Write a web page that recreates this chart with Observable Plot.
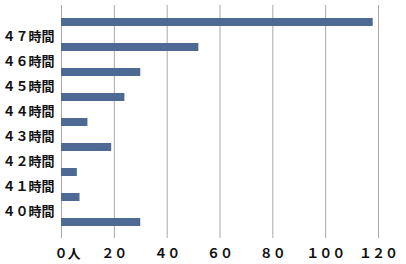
<!DOCTYPE html>
<html>
<head>
<meta charset="utf-8">
<script src="https://cdn.jsdelivr.net/npm/d3@7"></script>
<script src="https://cdn.jsdelivr.net/npm/@observablehq/plot@0.6"></script>
<style>
  html, body { margin: 0; padding: 0; background: #fff; }
  #chart svg { display: block; }
</style>
</head>
<body>
<div id="chart"></div>
<script>
const labels = ["", "４７時間", "４６時間", "４５時間", "４４時間", "４３時間", "４２時間", "４１時間", "４０時間"];
const values = [118, 52, 30, 24, 10, 19, 6, 7, 30];
const xTicks = [0, 20, 40, 60, 80, 100, 120];
const xTickLabels = ["０人", "２０", "４０", "６０", "８０", "１００", "１２０"];

const data = labels.map((l, i) => ({label: l, value: values[i]}));
const tickText = new Map(xTicks.map((t, i) => [t, xTickLabels[i]]));
const font = "'Noto Sans CJK JP', 'Noto Sans', sans-serif";

const chart = Plot.plot({
  width: 406,
  height: 264,
  marginTop: 5,
  marginBottom: 26,
  marginLeft: 61,
  marginRight: 28,
  style: {fontFamily: font, fontSize: "13px", fontWeight: "bold", color: "#111", background: "#fff"},
  x: {domain: [0, 120], axis: null, label: null},
  y: {domain: labels, type: "band", paddingInner: 0.69, paddingOuter: 0.345, axis: null, label: null},
  marks: [
    Plot.gridX(xTicks, {stroke: "#a8a8a8", strokeOpacity: 1, strokeWidth: 1}),
    Plot.barX(data, {x: "value", y: "label", fill: "#4e6a94"}),
    Plot.axisX(xTicks.filter(t => t !== 0), {tickSize: 0, tickPadding: 10, label: null, tickFormat: t => tickText.get(t), fontSize: 13, fontWeight: "bold", fill: "#111"}),
    Plot.axisX([0], {tickSize: 0, tickPadding: 10, label: null, tickFormat: t => tickText.get(t), textAnchor: "start", dx: -7, fontSize: 13, fontWeight: "bold", fill: "#111"}),
    Plot.axisY(labels.filter(l => l !== ""), {tickSize: 0, tickPadding: 7, dy: -11, label: null, fontSize: 13, fontWeight: "bold", fill: "#111"})
  ]
});
document.getElementById("chart").appendChild(chart);
</script>
</body>
</html>
